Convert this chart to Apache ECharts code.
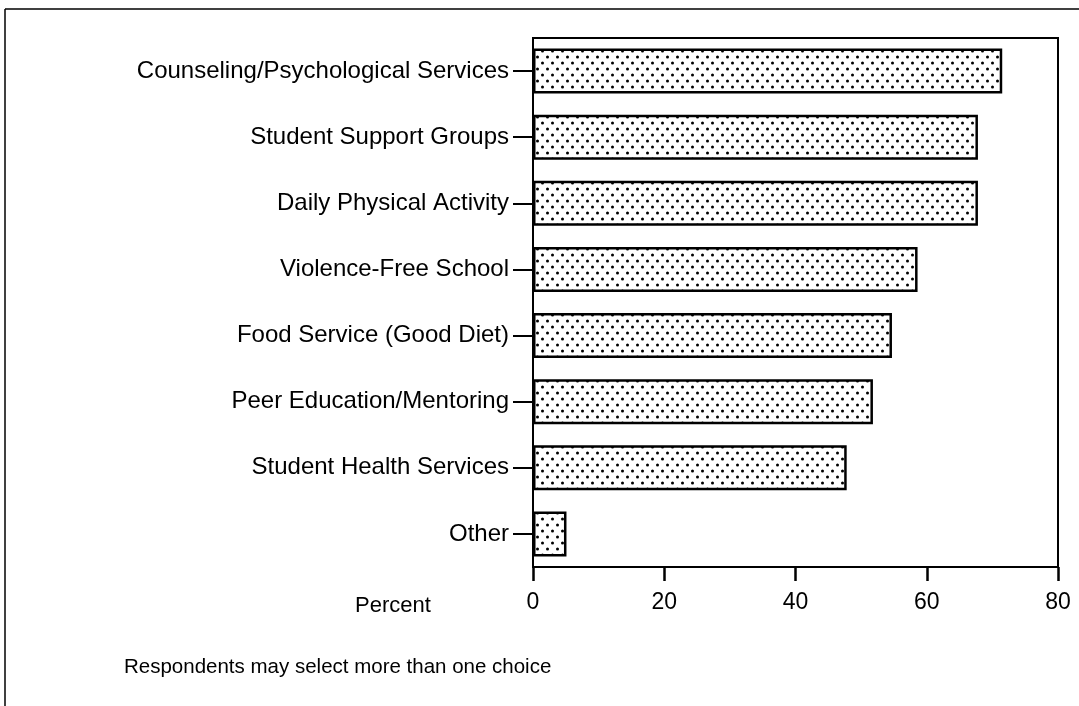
<!DOCTYPE html>
<html>
<head>
<meta charset="utf-8">
<script src="https://cdn.jsdelivr.net/npm/echarts@6/dist/echarts.min.js"></script>
<style>
  html, body { margin: 0; padding: 0; background: #fff; }
  #chart { width: 1079px; height: 706px; }
</style>
</head>
<body>
<div id="chart"></div>
<script>
const categories = [
  'Counseling/Psychological Services',
  'Student Support Groups',
  'Daily Physical Activity',
  'Violence-Free School',
  'Food Service (Good Diet)',
  'Peer Education/Mentoring',
  'Student Health Services',
  'Other'
];
const percents = [71.5, 67.8, 67.8, 58.6, 54.7, 51.8, 47.8, 5.1];
const xTicks = [0, 20, 40, 60, 80];

// dotted screen fill, like the printed halftone
function dotPattern() {
  const c = document.createElement('canvas');
  c.width = 10;
  c.height = 12;
  const ctx = c.getContext('2d');
  ctx.fillStyle = '#fff';
  ctx.fillRect(0, 0, 10, 12);
  ctx.fillStyle = '#000';
  [[2.5, 3], [7.5, 9]].forEach(([x, y]) => {
    ctx.beginPath();
    ctx.arc(x, y, 1.5, 0, Math.PI * 2);
    ctx.fill();
  });
  return c;
}

const font = 'Liberation Sans, Arial, Helvetica, sans-serif';
const chart = echarts.init(document.getElementById('chart'));
chart.setOption({
  backgroundColor: '#fff',
  animation: false,
  title: [
    { text: 'Percent', left: 350, top: 590, textStyle: { fontFamily: font, fontSize: 22, fontWeight: 'normal', color: '#000' } },
    { text: 'Respondents may select more than one choice', left: 119, top: 652, textStyle: { fontFamily: font, fontSize: 20.5, fontWeight: 'normal', color: '#000' } }
  ],
  grid: { left: 533, right: 21, top: 38, bottom: 139, show: true, borderColor: '#000', borderWidth: 2 },
  xAxis: {
    type: 'value',
    min: 0,
    max: 80,
    interval: 20,
    axisLine: { show: true, lineStyle: { color: '#000', width: 2 } },
    axisTick: { show: true, length: 14, lineStyle: { color: '#000', width: 2.5 } },
    splitLine: { show: false },
    axisLabel: {
      margin: 24,
      color: '#000',
      fontFamily: font,
      fontSize: 23,
      formatter: v => (xTicks.includes(v) ? String(v) : '')
    }
  },
  yAxis: {
    type: 'category',
    data: categories,
    inverse: true,
    axisLine: { show: true, lineStyle: { color: '#000', width: 2 } },
    axisTick: { show: true, alignWithLabel: true, length: 20, lineStyle: { color: '#000', width: 2 } },
    axisLabel: { margin: 24, color: '#000', fontFamily: font, fontSize: 24 }
  },
  series: [{
    type: 'bar',
    data: percents,
    barWidth: 45,
    itemStyle: {
      color: { image: dotPattern(), repeat: 'repeat' },
      borderColor: '#000',
      borderWidth: 2.5
    }
  }],
  graphic: [
    { type: 'line', shape: { x1: 5, y1: 9, x2: 1079, y2: 9 }, style: { stroke: '#000', lineWidth: 1.5 } },
    { type: 'line', shape: { x1: 5, y1: 9, x2: 5, y2: 706 }, style: { stroke: '#000', lineWidth: 1.5 } }
  ]
});
</script>
</body>
</html>
